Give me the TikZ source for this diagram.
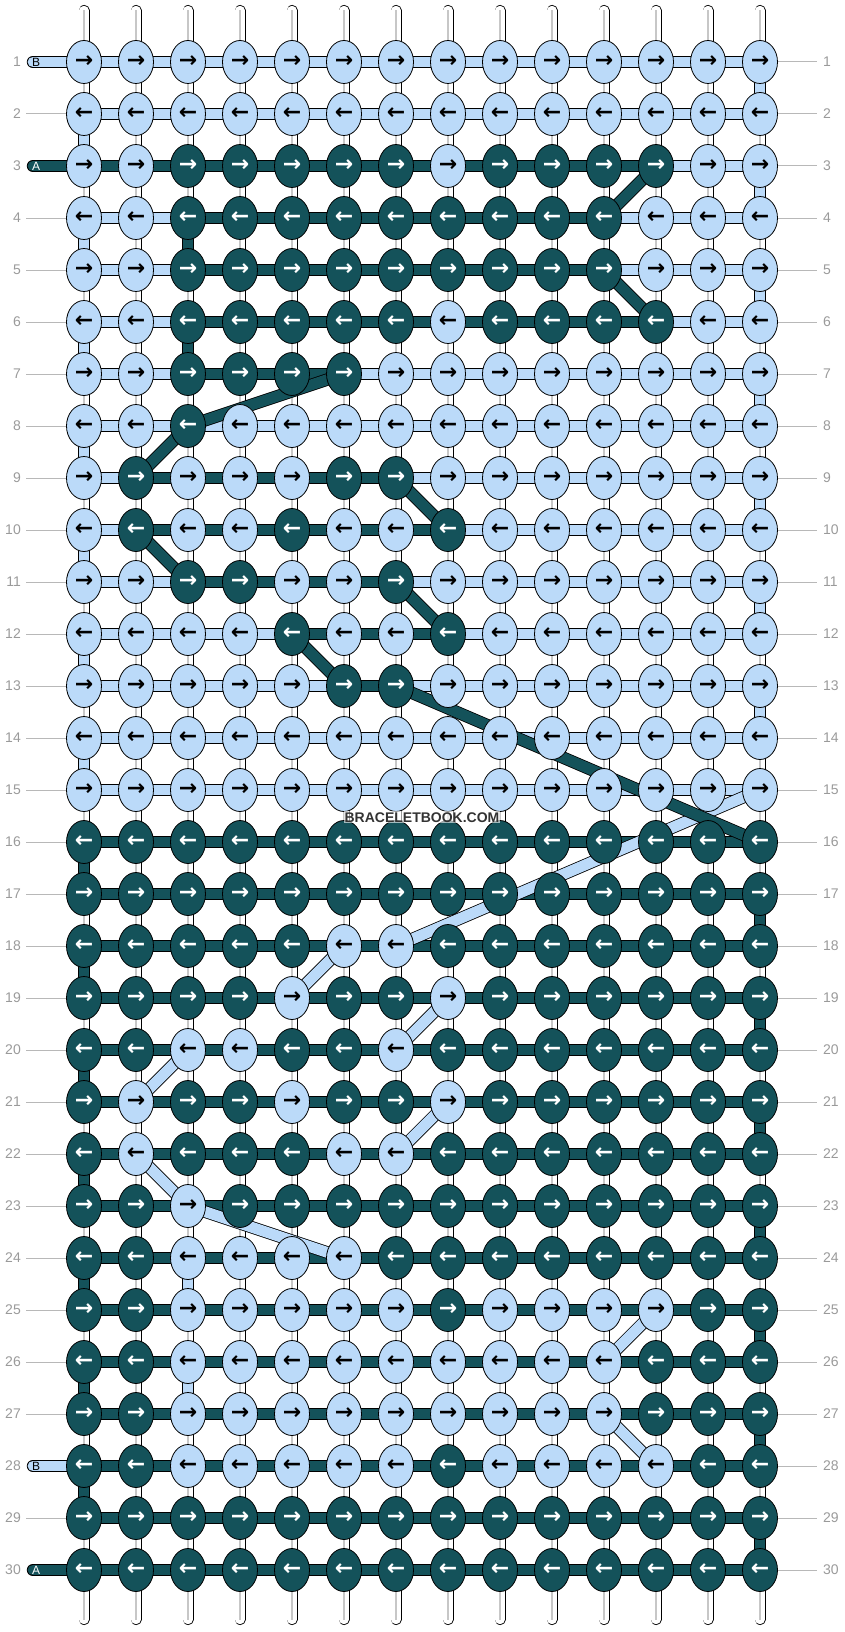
\documentclass[tikz,border=0pt]{standalone}
\usepackage{fontspec}
\setmainfont{Liberation Sans}
\newfontfamily\arrowfont{DejaVu Sans}
\usetikzlibrary{shapes.geometric}
\definecolor{braceletlight}{HTML}{BBDAF9}
\definecolor{braceletdark}{HTML}{14525A}
\definecolor{rowgray}{HTML}{9A9A9A}
\pgfdeclarelayer{warps}
\pgfdeclarelayer{threads}
\pgfsetlayers{warps,threads,main}
\tikzstyle{knot}=[ellipse,draw=black,line width=0.8pt,minimum width=35pt,minimum height=43pt,inner sep=0pt,font=\arrowfont\bfseries\fontsize{22}{22}\selectfont]
\tikzstyle{strand}=[draw=black,line width=0.8pt,double distance=10.8pt]
\tikzstyle{strandl}=[strand,double=braceletlight]
\tikzstyle{strandd}=[strand,double=braceletdark]
\tikzstyle{warp}=[draw=black,line width=0.8pt,double=white,double distance=9.4pt,line cap=round]
\tikzstyle{warpmid}=[draw=black!22,line width=2pt]
\tikzstyle{rowno}=[text=rowgray,inner sep=0pt,font=\fontsize{14}{14}\selectfont]
\tikzstyle{rowline}=[draw=black!28,line width=1pt]
\tikzstyle{tag}=[anchor=west,inner sep=0pt,font=\fontsize{12}{12}\selectfont]

\begin{document}
\begin{tikzpicture}[x=1pt,y=-1pt]
\useasboundingbox (0,0) rectangle (844,1632);

% cells knotted with the second colour
\foreach \ri/\cols in {3/{3,4,5,6,7,9,10,11,12},4/{3,4,5,6,7,8,9,10,11},5/{3,4,5,6,7,8,9,10,11},
  6/{3,4,5,6,7,9,10,11,12},7/{3,4,5,6},8/{3},9/{2,6,7},10/{2,5,8},11/{3,4,7},12/{5,8},13/{6,7},
  18/{6,7},19/{5,8},20/{3,4,7},21/{2,5,8},22/{2,6,7},23/{3},24/{3,4,5,6},
  25/{3,4,5,6,7,9,10,11,12},26/{3,4,5,6,7,8,9,10,11},27/{3,4,5,6,7,8,9,10,11},28/{3,4,5,6,7,9,10,11,12}}
  {\foreach \ci in \cols {\expandafter\gdef\csname minor-\ri-\ci\endcsname{}}}

\foreach \ri in {1,...,30}{
  \foreach \ci in {1,...,14}{
    \ifnum\ri<16 \def\kfill{braceletlight}\def\ktext{black}\else\def\kfill{braceletdark}\def\ktext{white}\fi
    \ifcsname minor-\ri-\ci\endcsname
      \ifnum\ri<16 \def\kfill{braceletdark}\def\ktext{white}\else\def\kfill{braceletlight}\def\ktext{black}\fi
    \fi
    \ifodd\ri \def\karrow{→}\else\def\karrow{←}\fi
    \node[knot,fill=\kfill,text=\ktext] (k-\ri-\ci) at ({84+52*(\ci-1)},{62+52*(\ri-1)}) {\karrow};
  }
}

\begin{pgfonlayer}{warps}
\foreach \ci in {1,...,14}{
  \coordinate (wt-\ci) at ({84+52*(\ci-1)},10.5);
  \coordinate (wb-\ci) at ({84+52*(\ci-1)},1619.5);
  \draw[warp] (wt-\ci) -- (wb-\ci);
  \draw[warpmid] (wt-\ci) -- (wb-\ci);
}
\end{pgfonlayer}

\begin{pgfonlayer}{threads}
% light thread
\coordinate (sb-1) at (33,62);
\coordinate (sb-28) at (33,1466);
\draw[strandl,line cap=round] (sb-1) -- (k-1-1.center);
\draw[strandl,line cap=round] (sb-28) -- (k-28-1.center);
\foreach \ri in {1,...,15} \draw[strandl] (k-\ri-1.center) -- (k-\ri-14.center);
\foreach \ri [evaluate=\ri as \rn using int(\ri+1)] in {1,3,...,13} \draw[strandl] (k-\ri-14.center) -- (k-\rn-14.center);
\foreach \ri [evaluate=\ri as \rn using int(\ri+1)] in {2,4,...,14} \draw[strandl] (k-\ri-1.center) -- (k-\rn-1.center);
% dark thread
\coordinate (sa-3) at (33,166);
\coordinate (sa-30) at (33,1570);
\draw[strandd,line cap=round] (sa-3) -- (k-3-12.center);
\draw[strandd,line cap=round] (sa-30) -- (k-30-1.center);
\foreach \ri/\a/\b in {4/3/11,5/3/11,6/3/12,7/3/6,9/2/7,10/2/8,11/3/7,12/5/8,13/6/7}
  \draw[strandd] (k-\ri-\a.center) -- (k-\ri-\b.center);
\foreach \ri in {16,...,30} \draw[strandd] (k-\ri-1.center) -- (k-\ri-14.center);
\foreach \ri [evaluate=\ri as \rn using int(\ri+1)] in {16,18,...,28} \draw[strandd] (k-\ri-1.center) -- (k-\rn-1.center);
\foreach \ri [evaluate=\ri as \rn using int(\ri+1)] in {17,19,...,29} \draw[strandd] (k-\ri-14.center) -- (k-\rn-14.center);
% row changes
\foreach \p/\q in {15-14/18-7,18-6/19-5,19-8/20-7,20-3/21-2,21-8/22-7,22-2/23-3,23-3/24-6,
  24-3/25-3,25-12/26-11,26-3/27-3,27-11/28-12}
  \draw[strandl] (k-\p.center) -- (k-\q.center);
\foreach \p/\q in {3-12/4-11,4-3/5-3,5-11/6-12,6-3/7-3,7-6/8-3,8-3/9-2,9-7/10-8,10-2/11-3,
  11-7/12-8,12-5/13-6,13-7/16-14}
  \draw[strandd] (k-\p.center) -- (k-\q.center);
\end{pgfonlayer}

\node[tag,text=black] (tag-b1) at (32,62) {B};
\node[tag,text=white] (tag-a3) at (32,166) {A};
\node[tag,text=black] (tag-b28) at (32,1466) {B};
\node[tag,text=white] (tag-a30) at (32,1570) {A};

\foreach \ri in {1,...,30}{
  \node[rowno,anchor=east] (nl-\ri) at (21,{62+52*(\ri-1)}) {\ri};
  \node[rowno,anchor=west] (nr-\ri) at (823,{62+52*(\ri-1)}) {\ri};
  \draw[rowline] (k-\ri-14.east) -- ([xshift=-6pt]nr-\ri.west);
}
\foreach \ri in {2,4,5,6,7,8,9,10,11,12,13,14,15,16,17,18,19,20,21,22,23,24,25,26,27,29}
  \draw[rowline] ([xshift=5pt]nl-\ri.east) -- (k-\ri-1.west);

\node[anchor=base,fill=white,fill opacity=0.6,text opacity=1,text=black!80,inner sep=1pt,
  font=\bfseries\fontsize{14}{14}\selectfont] (brand) at (422,822) {BRACELETBOOK.COM};
\end{tikzpicture}
\end{document}
